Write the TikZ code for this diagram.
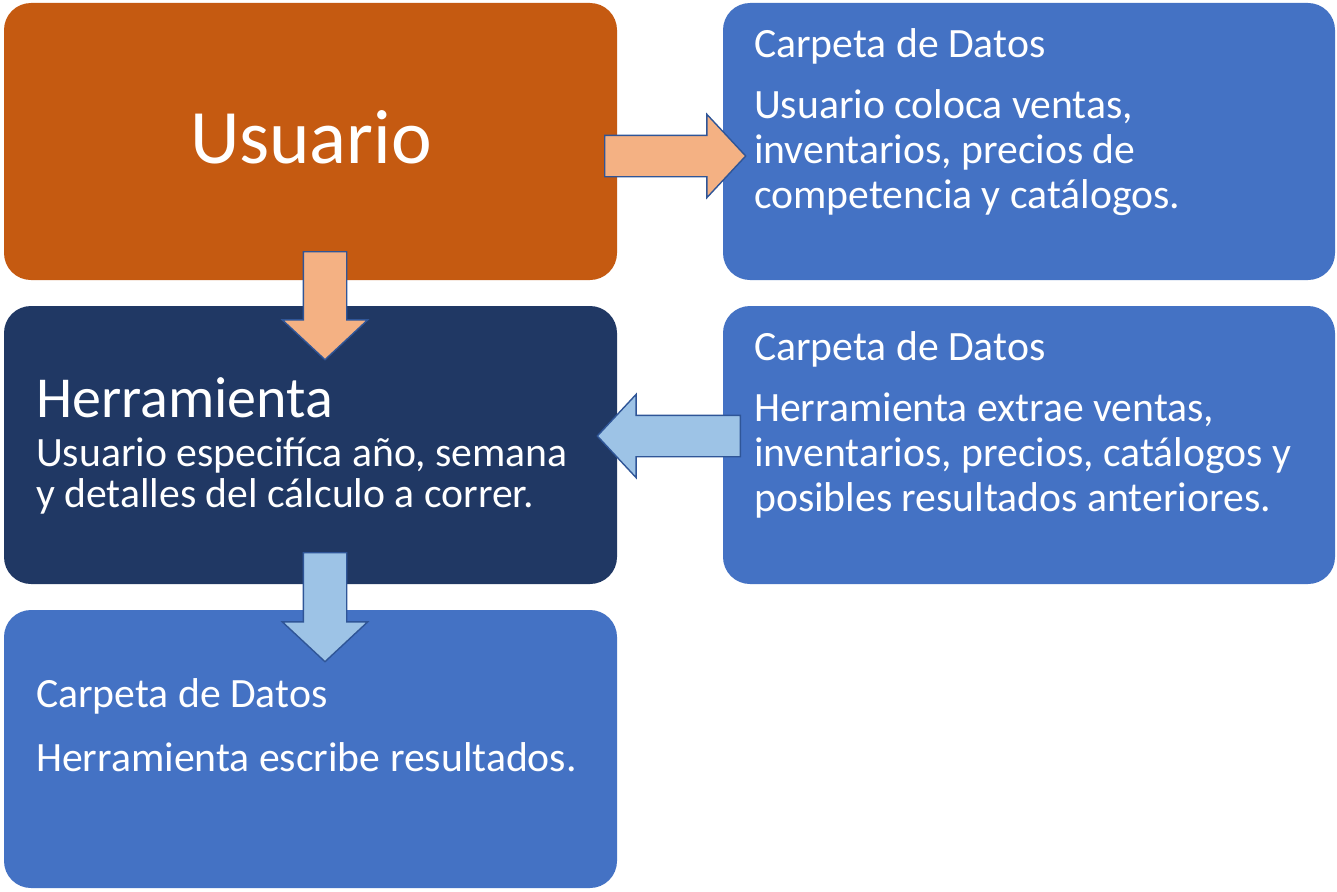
\documentclass[tikz,border=0pt]{standalone}
\usepackage{fontspec}
\setmainfont{Carlito}
\usetikzlibrary{shapes.arrows}
\definecolor{orangebox}{HTML}{C55A11}
\definecolor{navybox}{HTML}{203864}
\definecolor{bluebox}{HTML}{4472C4}
\definecolor{lightorange}{HTML}{F4B183}
\definecolor{lightblue}{HTML}{9DC3E6}
\definecolor{arrowline}{HTML}{2F5597}
\begin{document}
\begin{tikzpicture}[x=1pt,y=-1pt,
  box/.style={rectangle, rounded corners=27pt, inner sep=0pt, minimum width=613pt, minimum height=277pt, draw=none},
  blockarrow/.style={single arrow, draw=arrowline, line width=1.4pt, single arrow head extend=21pt, single arrow tip angle=94, anchor=tail},
  harrow/.style={blockarrow, inner xsep=0pt, inner ysep=20pt, minimum width=82pt},
  varrow/.style={blockarrow, inner xsep=21pt, inner ysep=0pt, minimum width=84pt, shape border rotate=270},
  txt/.style={anchor=base west, inner sep=0pt, text=white, font=\fontsize{41.7}{46}\selectfont},
]
\fill[white] (0,0) rectangle (1337,891);
\useasboundingbox (0,0) rectangle (1337,891);

% boxes
\node[box, fill=orangebox] (usr) at (310.5,141.5) {};
\node[box, fill=bluebox, minimum width=612pt] (tr) at (1029,141.5) {};
\node[box, fill=navybox, minimum height=278pt] (her) at (310.5,445) {};
\node[box, fill=bluebox, minimum width=612pt, minimum height=278pt] (mr) at (1029,445) {};
\node[box, fill=bluebox, minimum height=278pt] (bot) at (310.5,749) {};

% block arrows
\node[harrow, fill=lightorange, minimum height=141pt] (a1) at (604,156) {};
\node[varrow, fill=lightorange, minimum height=108pt] (a2) at (325,251) {};
\node[harrow, fill=lightblue, minimum height=143pt, shape border rotate=180] (a3) at (741,436) {};
\node[varrow, fill=lightblue, minimum height=109pt] (a4) at (325,552) {};

% texts
\node[anchor=base, inner sep=0pt, text=white, font=\fontsize{77}{82}\selectfont] (tusr) at (311,163) {Usuario};

\node[txt] (tr1) at (754,57.3) {Carpeta de Datos};
\node[txt] (tr2) at (754,118.3) {Usuario coloca ventas,};
\node[txt] (tr3) at (754,163.3) {inventarios, precios de};
\node[txt] (tr4) at (754,208) {competencia y catálogos.};

\node[txt] (mr1) at (754,360.8) {Carpeta de Datos};
\node[txt] (mr2) at (754,421.8) {Herramienta extrae ventas,};
\node[txt] (mr3) at (754,466.8) {inventarios, precios, catálogos y};
\node[txt] (mr4) at (754,511.5) {posibles resultados anteriores.};

\node[txt, font=\fontsize{58}{62}\selectfont] (h1) at (36,417) {Herramienta};
\node[txt] (h2) at (36,466) {Usuario especifíca año, semana};
\node[txt] (h3) at (36,507) {y detalles del cálculo a correr.};

\node[txt] (b1) at (36,707.3) {Carpeta de Datos};
\node[txt] (b2) at (36,771.7) {Herramienta escribe resultados.};
\end{tikzpicture}
\end{document}
